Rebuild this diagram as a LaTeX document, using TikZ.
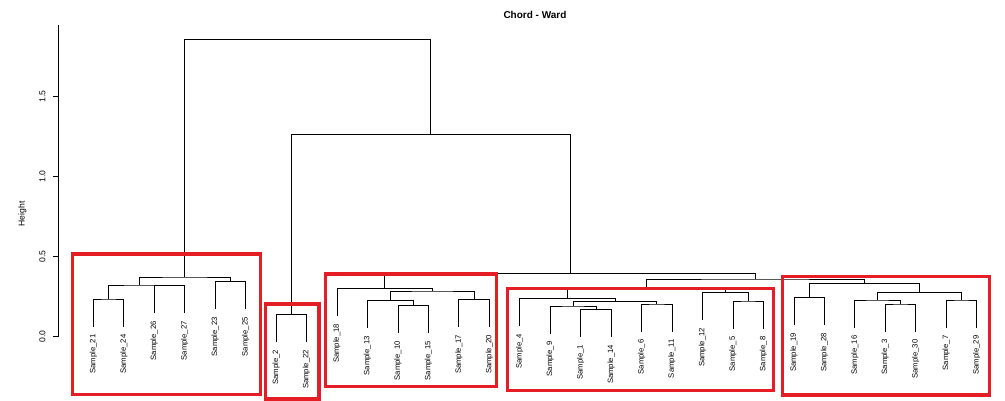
\documentclass[tikz,border=0pt]{standalone}
\usepackage{fontspec}
\setmainfont{Liberation Sans}
\definecolor{boxred}{RGB}{228,30,36}
\begin{document}
\begin{tikzpicture}[x=1pt,y=-1pt,
  dend/.style={draw=black, line width=0.7pt},
  lab/.style={rotate=90, anchor=east, inner sep=0pt, font=\fontsize{7.7}{8}\selectfont},
  redbox/.style={draw=boxred, line width=3.2pt},
  axlab/.style={rotate=90, inner sep=0pt, font=\fontsize{8.6}{9}\selectfont},
  axis/.style={draw=black, line width=0.8pt}]
\useasboundingbox (0,0) rectangle (1005,401);

% title
\node[anchor=base, inner sep=0pt, font=\bfseries\fontsize{10}{12}\selectfont] (title) at (535,19) {Chord - Ward};

% axis
\coordinate (ax0) at (58.3,336.7);
\coordinate (axtop) at (58.3,25);
\draw[axis] (ax0) -- (axtop);
\foreach \i/\v/\yy in {0/0.0/336.7,1/0.5/256.7,2/1.0/176.7,3/1.5/96.7}{
  \coordinate (tk\i) at (58.3,\yy);
  \coordinate (tl\i) at (53.3,\yy);
  \draw[axis] (tk\i) -- (tl\i);
  \node[axlab] (tv\i) at (42.5,\yy) {\v};
}
\node[axlab] (ylab) at (22.5,214) {Height};

% leaves (line ends)
\coordinate (s21) at (93.3,326.5);
\coordinate (s24) at (123.8,326.5);
\coordinate (s26) at (154.2,313.2);
\coordinate (s27) at (184.7,313.2);
\coordinate (s23) at (215.1,309.2);
\coordinate (s25) at (245.6,309.2);
\coordinate (s2)  at (276.1,341.8);
\coordinate (s22) at (306.5,341.8);
\coordinate (s18) at (337.0,315.8);
\coordinate (s13) at (367.4,328.2);
\coordinate (s10) at (397.9,333.2);
\coordinate (s15) at (428.4,333.2);
\coordinate (s17) at (458.8,326.8);
\coordinate (s20) at (489.3,326.8);
\coordinate (s4)  at (519.7,325.8);
\coordinate (s9)  at (550.2,333.5);
\coordinate (s1)  at (580.7,336.8);
\coordinate (s14) at (611.1,336.8);
\coordinate (s6)  at (641.6,331.5);
\coordinate (s11) at (672.0,331.5);
\coordinate (s12) at (702.5,319.8);
\coordinate (s5)  at (732.9,328.5);
\coordinate (s8)  at (763.4,328.5);
\coordinate (s19) at (793.9,324.8);
\coordinate (s28) at (824.3,324.8);
\coordinate (s16) at (854.8,327.5);
\coordinate (s3)  at (885.2,331.5);
\coordinate (s30) at (915.7,331.5);
\coordinate (s7)  at (946.1,327.5);
\coordinate (s29) at (976.6,327.5);

% labels
\node[lab] (t21) at (93.3,334.5) {Sample\_21};
\node[lab] (t24) at (123.8,334.5) {Sample\_24};
\node[lab] (t26) at (154.2,321.2) {Sample\_26};
\node[lab] (t27) at (184.7,321.2) {Sample\_27};
\node[lab] (t23) at (215.1,317.2) {Sample\_23};
\node[lab] (t25) at (245.6,317.2) {Sample\_25};
\node[lab] (t2)  at (276.1,349.8) {Sample\_2};
\node[lab] (t22) at (306.5,349.8) {Sample\_22};
\node[lab] (t18) at (337.0,323.8) {Sample\_18};
\node[lab] (t13) at (367.4,336.2) {Sample\_13};
\node[lab] (t10) at (397.9,341.2) {Sample\_10};
\node[lab] (t15) at (428.4,341.2) {Sample\_15};
\node[lab] (t17) at (458.8,334.8) {Sample\_17};
\node[lab] (t20) at (489.3,334.8) {Sample\_20};
\node[lab] (t4)  at (519.7,333.8) {Sample\_4};
\node[lab] (t9)  at (550.2,341.5) {Sample\_9};
\node[lab] (t1)  at (580.7,344.8) {Sample\_1};
\node[lab] (t14) at (611.1,344.8) {Sample\_14};
\node[lab] (t6)  at (641.6,339.5) {Sample\_6};
\node[lab] (t11) at (672.0,339.5) {Sample\_11};
\node[lab] (t12) at (702.5,327.8) {Sample\_12};
\node[lab] (t5)  at (732.9,336.5) {Sample\_5};
\node[lab] (t8)  at (763.4,336.5) {Sample\_8};
\node[lab] (t19) at (793.9,332.8) {Sample\_19};
\node[lab] (t28) at (824.3,332.8) {Sample\_28};
\node[lab] (t16) at (854.8,335.5) {Sample\_16};
\node[lab] (t3)  at (885.2,339.5) {Sample\_3};
\node[lab] (t30) at (915.7,339.5) {Sample\_30};
\node[lab] (t7)  at (946.1,335.5) {Sample\_7};
\node[lab] (t29) at (976.6,335.5) {Sample\_29};

% internal merge points
\coordinate (mA)  at (108.55,299.0);
\coordinate (mB)  at (169.45,285.7);
\coordinate (mC)  at (139.0,285.0);
\coordinate (mD)  at (230.35,281.7);
\coordinate (mC1) at (184.7,277.0);
\coordinate (mC2) at (291.3,314.3);
\coordinate (mE)  at (413.15,305.7);
\coordinate (mF)  at (390.3,300.7);
\coordinate (mG)  at (474.05,299.3);
\coordinate (mH)  at (432.2,291.0);
\coordinate (mC3) at (384.6,288.3);
\coordinate (mI)  at (595.9,309.3);
\coordinate (mJ)  at (573.05,306.0);
\coordinate (mK)  at (656.8,304.0);
\coordinate (mL)  at (614.9,301.7);
\coordinate (mM)  at (567.3,298.3);
\coordinate (mN)  at (748.15,301.0);
\coordinate (mO)  at (725.3,292.3);
\coordinate (mC4) at (646.3,287.0);
\coordinate (mP)  at (809.1,297.3);
\coordinate (mQ)  at (900.45,304.0);
\coordinate (mR)  at (877.6,300.0);
\coordinate (mS)  at (961.35,300.0);
\coordinate (mT)  at (919.5,292.3);
\coordinate (mC5) at (864.3,283.3);
\coordinate (mU)  at (755.3,279.0);
\coordinate (mV)  at (569.95,273.3);
\coordinate (mW)  at (430.6,134.3);
\coordinate (mRoot) at (307.65,39.3);

% dendrogram
\draw[dend] (s21) |- (mA) -| (s24);
\draw[dend] (s26) |- (mB) -| (s27);
\draw[dend] (mA) |- (mC) -| (mB);
\draw[dend] (s23) |- (mD) -| (s25);
\draw[dend] (mC) |- (mC1) -| (mD);
\draw[dend] (s2) |- (mC2) -| (s22);
\draw[dend] (s10) |- (mE) -| (s15);
\draw[dend] (s13) |- (mF) -| (mE);
\draw[dend] (s17) |- (mG) -| (s20);
\draw[dend] (mF) |- (mH) -| (mG);
\draw[dend] (s18) |- (mC3) -| (mH);
\draw[dend] (s1) |- (mI) -| (s14);
\draw[dend] (s9) |- (mJ) -| (mI);
\draw[dend] (s6) |- (mK) -| (s11);
\draw[dend] (mJ) |- (mL) -| (mK);
\draw[dend] (s4) |- (mM) -| (mL);
\draw[dend] (s5) |- (mN) -| (s8);
\draw[dend] (s12) |- (mO) -| (mN);
\draw[dend] (mM) |- (mC4) -| (mO);
\draw[dend] (s19) |- (mP) -| (s28);
\draw[dend] (s3) |- (mQ) -| (s30);
\draw[dend] (s16) |- (mR) -| (mQ);
\draw[dend] (s7) |- (mS) -| (s29);
\draw[dend] (mR) |- (mT) -| (mS);
\draw[dend] (mP) |- (mC5) -| (mT);
\draw[dend] (mC4) |- (mU) -| (mC5);
\draw[dend] (mC3) |- (mV) -| (mU);
\draw[dend] (mC2) |- (mW) -| (mV);
\draw[dend] (mC1) |- (mRoot) -| (mW);

% red boxes
\draw[redbox] (72.7,254) rectangle (260.7,394.3);
\draw[redbox] (265.7,304) rectangle (319,399);
\draw[redbox] (325.7,274) rectangle (496.7,386.7);
\draw[redbox] (507.3,288.3) rectangle (773.3,390.7);
\draw[redbox] (782.7,276.7) rectangle (989.3,395);
\end{tikzpicture}
\end{document}
